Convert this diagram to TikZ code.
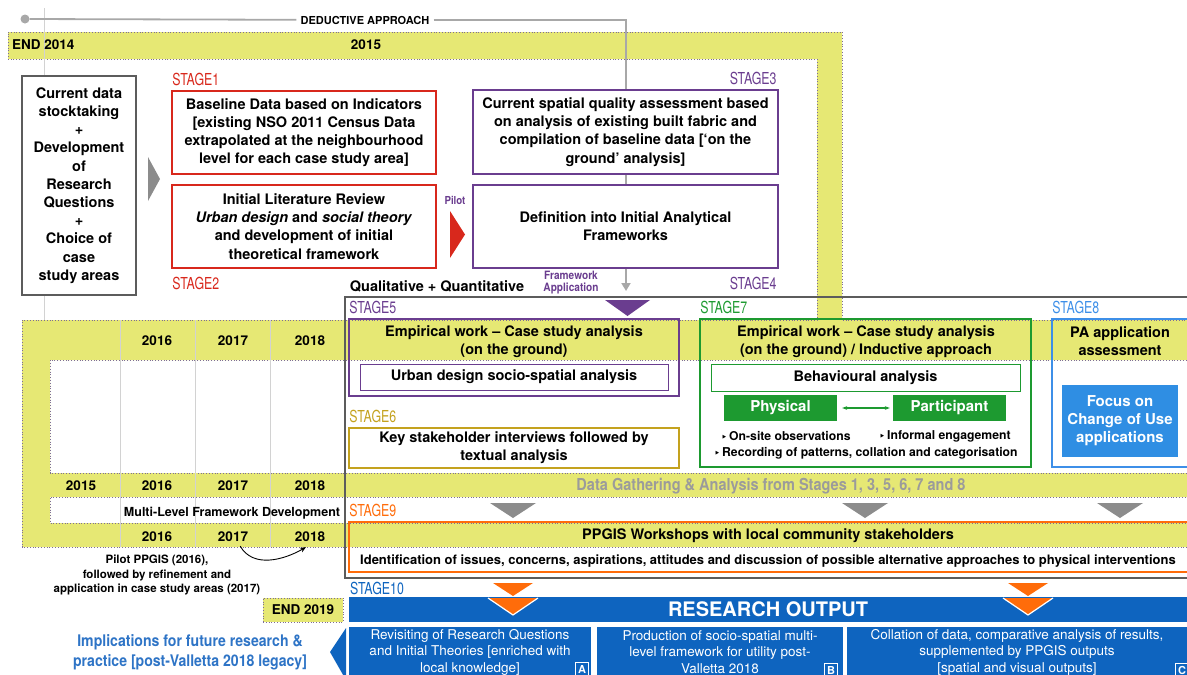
\documentclass[tikz,border=0pt]{standalone}
\usepackage{fontspec}
\setmainfont{TeX Gyre Heros}
\newfontfamily\stagefont[FakeStretch=0.75]{TeX Gyre Heros}
\newfontfamily\condfont[FakeStretch=0.88]{TeX Gyre Heros}
\newfontfamily\bulfont{DejaVu Sans}
\usetikzlibrary{arrows.meta,positioning}

\definecolor{bandyellow}{HTML}{E6E874}
\definecolor{dotline}{HTML}{7E6E96}
\definecolor{stagered}{HTML}{D8281C}
\definecolor{stagepurple}{HTML}{6A3D8F}
\definecolor{stagegold}{HTML}{C4A21E}
\definecolor{stagegreen}{HTML}{1D9A30}
\definecolor{stageblue}{HTML}{3D8FE8}
\definecolor{focusblue}{HTML}{2F8EE3}
\definecolor{outblue}{HTML}{0E64BF}
\definecolor{implblue}{HTML}{2E74C6}
\definecolor{stageorange}{HTML}{FF6C0A}
\definecolor{framegray}{HTML}{5C5C5C}
\definecolor{linegray}{HTML}{A8A8A8}
\definecolor{gridgray}{HTML}{D2D2D2}
\definecolor{arrowgray}{HTML}{8C8C8C}
\definecolor{textgray}{HTML}{9B9B9B}

\newcommand{\setfs}[2]{\fontsize{#1}{#2}\selectfont}
\newcommand{\tbul}{{\bulfont\setfs{9}{9}‣}\,}

\begin{document}
\begin{tikzpicture}[x=1pt,y=-1pt,
    box/.style={draw=#1, line width=1.6pt, fill=white, align=center, inner sep=2pt,
      font=\bfseries\setfs{14.5}{18.2}},
    openbox/.style={draw=#1, line width=1.6pt, inner sep=0pt},
    innerbox/.style={draw=#1, line width=0.9pt, fill=white, inner sep=0pt,
      font=\bfseries\setfs{14.5}{18}},
    txt/.style={align=center, inner sep=0pt, font=\bfseries\setfs{14.5}{18}},
    stagelbl/.style={text=#1, inner sep=0pt, font=\stagefont\setfs{16.5}{16.5}},
    year/.style={inner sep=0pt, font=\bfseries\setfs{13.5}{13.5}},
    greenbox/.style={fill=stagegreen, text=white, minimum width=113, minimum height=26,
      inner sep=0pt, font=\bfseries\setfs{15}{15}},
    bullet/.style={inner sep=0pt, font=\bfseries\setfs{12.2}{12.2}},
    outbox/.style={fill=outblue, text=white, align=center, inner sep=0pt,
      minimum height=50, font=\setfs{13.5}{16.5}},
    tag/.style={draw=white, line width=0.9pt, text=white, inner sep=0pt,
      minimum size=13, font=\bfseries\setfs{11}{11}}]

  \useasboundingbox (0,0) rectangle (1187,675);
  \clip (0,0) rectangle (1187,675);

  % timeline band
  \draw[fill=bandyellow, draw=dotline, dotted, line width=0.8pt]
    (8,32) -- (842,32) -- (842,320) -- (1192,320) -- (1192,360) -- (50,360)
    -- (50,473) -- (1192,473) -- (1192,497) -- (50,497) -- (50,523)
    -- (1192,523) -- (1192,547) -- (22,547) -- (22,320) -- (817,320)
    -- (817,59) -- (8,59) -- cycle;
  \draw[gridgray, line width=0.8pt] (44,8) -- (44,320);
  \foreach \x in {120,195,270}
    \draw[gridgray, line width=0.8pt] (\x,320) -- (\x,547);

  % years
  \node[year, anchor=west] (end14) at (12,45) {END 2014};
  \node[year] (y2015) at (366,45) {2015};
  \foreach \yr/\x in {2016/157,2017/233,2018/310} {
    \node[year] (a\yr) at (\x,341) {\yr};
    \node[year] (c\yr) at (\x,537) {\yr};
  }
  \foreach \yr/\x in {2015/81,2016/157,2017/233,2018/310}
    \node[year] (b\yr) at (\x,486) {\yr};
  \node[inner sep=0pt, font=\bfseries\setfs{12.5}{12.5}] (mlf) at (232,513)
    {Multi-Level Framework Development};
  \node[align=center, inner sep=0pt, font=\bfseries\setfs{11.5}{14.5}] (pilot) at (157,575)
    {Pilot PPGIS (2016),\\followed by refinement and\\application in case study areas (2017)};
  \draw[line width=0.9pt, -{Stealth[length=6pt,width=5pt]}]
    ([xshift=-8pt,yshift=-4pt]c2017.south east) to[out=-60,in=-150] ([xshift=-4pt,yshift=-5pt]c2018.south);
  \node[draw=dotline, dotted, line width=0.8pt, fill=bandyellow, minimum width=80,
    minimum height=24, inner sep=0pt, font=\bfseries\setfs{13.5}{13.5}] (end19) at (303,610) {END 2019};

  % deductive approach
  \node[circle, fill=linegray, inner sep=0pt, minimum size=9] (dstart) at (25,19) {};
  \node[inner sep=4pt, font=\bfseries\setfs{11}{11}] (ded) at (365,20) {DEDUCTIVE APPROACH};
  \coordinate (dend) at (626,291);
  \draw[linegray, line width=1.8pt] (dstart) -- (ded);
  \draw[linegray, line width=1.8pt, -{Triangle[length=8pt,width=9pt]}] (ded) -| (dend);

  % stages 1-4
  \node[box=framegray, minimum width=114, minimum height=219] (stock) at (79,185.5)
    {Current data\\stocktaking\\+\\Development\\of\\Research\\Questions\\+\\Choice of\\case\\study areas};
  \node[box=stagered, minimum width=264, minimum height=83] (s1) at (304,132.5)
    {Baseline Data based on Indicators\\{[}existing NSO 2011 Census Data\\extrapolated at the neighbourhood\\level for each case study area]};
  \node[box=stagered, minimum width=264, minimum height=83] (s2) at (304,226.5)
    {Initial Literature Review\\\textit{Urban design} and \textit{social theory}\\and development of initial\\theoretical framework};
  \node[box=stagepurple, minimum width=305, minimum height=84] (s3) at (625.5,132)
    {Current spatial quality assessment based\\on analysis of existing built fabric and\\compilation of baseline data [‘on the\\ground’ analysis]};
  \node[box=stagepurple, minimum width=305, minimum height=83] (s4) at (625.5,226.5)
    {Definition into Initial Analytical\\Frameworks};
  \node[stagelbl=stagered, anchor=base west] (l1) at ([xshift=1pt,yshift=5pt]s1.north west) {STAGE1};
  \node[stagelbl=stagered, anchor=north west] (l2) at ([xshift=1pt,yshift=-8pt]s2.south west) {STAGE2};
  \node[stagelbl=stagepurple, anchor=base east] (l3) at ([xshift=-2pt,yshift=5pt]s3.north east) {STAGE3};
  \node[stagelbl=stagepurple, anchor=north east] (l4) at ([xshift=-2pt,yshift=-8pt]s4.south east) {STAGE4};

  \fill[arrowgray] (148,157) -- (160,179) -- (148,201) -- cycle;
  \fill[stagered] (450,211) -- (465,234.5) -- (450,258) -- cycle;
  \node[text=stagepurple, inner sep=0pt, font=\condfont\bfseries\setfs{11}{11}] (pil) at (455,200) {Pilot};
  \node[text=stagepurple, align=center, inner sep=0pt, font=\condfont\bfseries\setfs{11.5}{12}] (fwa) at (571,283)
    {Framework\\Application};
  \node[inner sep=0pt, font=\bfseries\setfs{14.5}{14.5}] (qq) at (437,286) {Qualitative + Quantitative};

  % qualitative + quantitative frame
  \draw[framegray, line width=2pt] (1195,297) -- (345,297) -- (345,578) -- (1195,578);
  \fill[stagepurple] (605,300) -- (650,300) -- (627.5,316) -- cycle;

  % stage 5 and 6
  \node[openbox=stagepurple, minimum width=330, minimum height=77] (s5) at (514,357.5) {};
  \node[txt] (s5h) at (514,342) {Empirical work -- Case study analysis\\(on the ground)};
  \node[innerbox=stagepurple, minimum width=308, minimum height=26] (s5i) at (514,377)
    {Urban design socio-spatial analysis};
  \node[stagelbl=stagepurple, anchor=base west] (l5) at ([xshift=1pt,yshift=5pt]s5.north west) {STAGE5};
  \node[box=stagegold, fill=none, minimum width=330, minimum height=40] (s6) at (514,448)
    {Key stakeholder interviews followed by\\textual analysis};
  \node[stagelbl=stagegold, anchor=base west] (l6) at ([xshift=1pt,yshift=5pt]s6.north west) {STAGE6};

  % stage 7
  \node[openbox=stagegreen, minimum width=331, minimum height=148] (s7) at (865.5,393) {};
  \node[txt] (s7h) at (866,342) {Empirical work -- Case study analysis\\(on the ground) / Inductive approach};
  \node[innerbox=stagegreen, minimum width=309, minimum height=27] (s7i) at (865.5,377.5)
    {Behavioural analysis};
  \node[greenbox] (phys) at (780.5,408) {Physical};
  \node[greenbox] (part) at (949.5,408) {Participant};
  \draw[stagegreen, line width=1.2pt, {Stealth[length=5pt]}-{Stealth[length=5pt]}]
    ([xshift=5pt]phys.east) -- ([xshift=-3pt]part.west);
  \node[bullet] (b1) at (786,436) {\tbul On-site observations};
  \node[bullet] (b2) at (945,436) {\tbul Informal engagement};
  \node[bullet] (b3) at (866,453) {\tbul Recording of patterns, collation and categorisation};
  \node[stagelbl=stagegreen, anchor=base west] (l7) at ([xshift=1pt,yshift=5pt]s7.north west) {STAGE7};

  % stage 8
  \node[openbox=stageblue, minimum width=143, minimum height=148] (s8) at (1123.5,393) {};
  \node[txt] (s8h) at (1120,341) {PA application\\assessment};
  \node[fill=focusblue, text=white, align=center, minimum width=116, minimum height=72,
    inner sep=0pt, font=\bfseries\setfs{15}{18}] (focus) at (1120,421) {Focus on\\Change of Use\\applications};
  \node[stagelbl=stageblue, anchor=base west] (l8) at ([xshift=1pt,yshift=5pt]s8.north west) {STAGE8};

  % data gathering and stage 9
  \node[text=textgray, inner sep=0pt, font=\condfont\bfseries\setfs{16.5}{16.5}] (dga) at (771,486)
    {Data Gathering \& Analysis from Stages 1, 3, 5, 6, 7 and 8};
  \foreach \x in {513,865,1120}
    \fill[arrowgray] (\x-23,503) -- (\x+23,503) -- (\x,518) -- cycle;
  \node[openbox=stageorange, minimum width=843, minimum height=50] (s9) at (770.5,547) {};
  \node[txt] (s9h) at (768,536) {PPGIS Workshops with local community stakeholders};
  \node[txt, font=\bfseries\setfs{13}{13}] (s9b) at (768,561)
    {Identification of issues, concerns, aspirations, attitudes and discussion of possible alternative approaches to physical interventions};
  \node[stagelbl=stageorange, anchor=base west] (l9) at ([xshift=1pt,yshift=5pt]s9.north west) {STAGE9};

  % stage 10
  \node[fill=outblue, text=white, minimum width=838, minimum height=25, inner sep=0pt,
    font=\bfseries\setfs{20}{20}] (res) at (768,609.5) {RESEARCH OUTPUT};
  \node[stagelbl=outblue, anchor=north west] (l10) at (350,582) {STAGE10};
  \foreach \x in {513,1028} {
    \fill[stageorange] (\x-20,583) -- (\x+20,583) -- (\x,596) -- cycle;
    \draw[fill=stageorange, draw=white, line width=1.2pt] (\x-25,598) -- (\x,615) -- (\x+25,598);
  }
  \node[outbox, minimum width=242] (oa) at (470,652)
    {Revisiting of Research Questions\\and Initial Theories [enriched with\\local knowledge]};
  \node[outbox, minimum width=246] (ob) at (720,652)
    {Production of socio-spatial multi-\\level framework for utility post-\\Valletta 2018};
  \node[outbox, minimum width=340] (oc) at (1017,652)
    {Collation of data, comparative analysis of results,\\supplemented by PPGIS outputs\\{[}spatial and visual outputs]};
  \node[tag] (ta) at (582,669) {A};
  \node[tag] (tb) at (831,670) {B};
  \node[tag] (tc) at (1182,670) {C};
  \fill[outblue] (346,628) -- (346,680) -- (330,652) -- cycle;
  \node[text=implblue, align=center, inner sep=0pt, font=\condfont\bfseries\setfs{16}{20}] (impl) at (190,652)
    {Implications for future research \&\\practice [post-Valletta 2018 legacy]};
\end{tikzpicture}
\end{document}
